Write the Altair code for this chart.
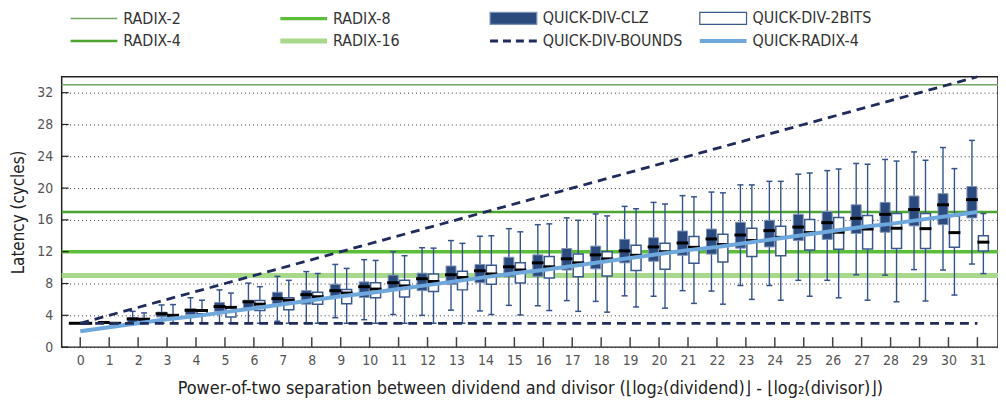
import altair as alt
import pandas as pd

# ---------------- data ----------------
x_values = list(range(32))

clz_min = [3, 3, 3, 3, 3, 3, 3, 3.25, 3, 3.7, 3.45, 4.1, 4.0, 4.65, 4.55, 5.25,
           5.2, 5.85, 5.75, 6.45, 6.4, 7.1, 7.05, 7.75, 7.75, 8.4, 8.4, 9.1, 9.05, 9.75, 9.7, 10.45]
clz_q1 = [3, 3, 3.1, 3.8, 4.1, 4.5, 4.9, 5.45, 5.4, 6.35, 6.25, 7.1, 7.1, 7.9, 8.1, 8.85,
          8.9, 9.7, 9.85, 10.6, 10.8, 11.55, 11.7, 12.45, 12.6, 13.4, 13.55, 14.3, 14.45, 15.25, 15.4, 16.25]
clz_med = [3, 3.1, 3.55, 4.2, 4.65, 5.1, 5.7, 6.1, 6.6, 7.1, 7.6, 8.1, 8.6, 9.1, 9.6, 10.1,
           10.6, 11.1, 11.6, 12.1, 12.6, 13.1, 13.6, 14.1, 14.65, 15.1, 15.65, 16.2, 16.7, 17.3, 17.9, 18.55]
clz_q3 = [3, 3.2, 3.7, 4.4, 4.8, 5.6, 5.9, 6.9, 7.1, 7.9, 8.2, 9.05, 9.3, 10.2, 10.4, 11.3,
          11.6, 12.4, 12.7, 13.55, 13.75, 14.6, 14.85, 15.7, 15.95, 16.7, 17.05, 17.9, 18.2, 19.0, 19.3, 20.2]
clz_max = [3, 3.2, 4.5, 5.3, 6.2, 7.2, 8.05, 8.9, 9.5, 10.4, 11.0, 12.0, 12.5, 13.4, 13.95, 14.9,
           15.4, 16.25, 16.75, 17.7, 18.2, 19.05, 19.5, 20.4, 20.85, 21.75, 22.2, 23.1, 23.6, 24.55, 25.1, 26.0]

bits_min = [3, 3, 3, 3, 3, 3, 3, 3, 3, 3, 3, 3, 3, 3, 4.1, 4.05,
            4.6, 4.5, 4.4, 5.05, 4.9, 5.5, 5.4, 6.0, 5.9, 6.4, 6.2, 5.9, 5.7, 5.8, 6.55, 9.25]
bits_q1 = [3, 3, 3.4, 3.55, 4.2, 3.8, 4.6, 4.7, 5.4, 5.45, 6.2, 6.3, 7.0, 7.2, 7.9, 8.05,
           8.7, 8.85, 8.95, 9.65, 9.8, 10.55, 10.7, 11.4, 11.5, 12.2, 12.3, 12.35, 12.4, 12.4, 12.55, 12.1]
bits_med = [3, 3, 3.5, 4.0, 4.6, 5.0, 5.4, 5.9, 6.35, 6.8, 7.3, 7.7, 8.25, 8.75, 9.2, 9.7,
            10.1, 10.6, 11.1, 11.55, 12.0, 12.55, 12.9, 13.4, 13.8, 14.4, 14.45, 14.85, 14.95, 14.9, 14.4, 13.2]
bits_q3 = [3, 3, 3.6, 4.05, 4.7, 5.05, 5.85, 6.2, 6.9, 7.25, 8.1, 8.4, 9.2, 9.55, 10.3, 10.6,
           11.4, 11.7, 12.0, 12.8, 13.05, 13.9, 14.2, 14.95, 15.2, 16.05, 16.3, 16.55, 16.8, 16.8, 16.5, 14.0]
bits_max = [3, 3, 4.3, 5.35, 5.9, 6.8, 7.6, 8.4, 9.25, 9.9, 10.9, 11.5, 12.45, 13.05, 14.0, 14.5,
            15.5, 15.95, 16.5, 17.4, 18.0, 18.9, 19.4, 20.4, 20.85, 21.9, 22.4, 23.0, 23.4, 23.5, 22.45, 16.8]

quick_radix4 = [2.0, 2.5, 3.0, 3.5, 3.9, 4.4, 4.9, 5.4, 5.9, 6.4, 6.8, 7.3, 7.8, 8.3, 8.8, 9.3,
                9.7, 10.2, 10.7, 11.2, 11.7, 12.2, 12.6, 13.1, 13.6, 14.1, 14.6, 15.1, 15.5, 16.0, 16.5, 17.0]

radix_names = ["RADIX-2", "RADIX-4", "RADIX-8", "RADIX-16"]
radix_latency = [33, 17, 12, 9]

bounds_x = [0, 31]
bounds_lower = [3, 3]
bounds_upper = [3, 34]

y_tick_values = [0, 4, 8, 12, 16, 20, 24, 28, 32]

# legend entries, column by column (4 columns of 2 rows)
legend_order = ["RADIX-2", "RADIX-4", "RADIX-8", "RADIX-16",
                "QUICK-DIV-CLZ", "QUICK-DIV-BOUNDS", "QUICK-DIV-2BITS", "QUICK-RADIX-4"]

# ---------------- styling ----------------
FONT = "Liberation Sans Narrow, DejaVu Sans Condensed, sans-serif"
W, H = 942, 272
NAVY = "#2b4a7e"
WHISK = "#34538a"
DASH_NAVY = "#1f2b5a"
radix_colors = {"RADIX-2": "#73a866", "RADIX-4": "#4ea431", "RADIX-8": "#5cbd38", "RADIX-16": "#a8d98a"}
radix_widths = {"RADIX-2": 1.5, "RADIX-4": 2.5, "RADIX-8": 3.5, "RADIX-16": 5}
QR4 = "#6fa8dc"

xs = alt.Scale(domain=[-0.47, 31.54], nice=False, zero=False)
ys = alt.Scale(domain=[0, 34], nice=False, zero=False)
X_TITLE = "Power-of-two separation between dividend and divisor (⌊log₂(dividend)⌋ - ⌊log₂(divisor)⌋)"


def xenc(field="x"):
    return alt.X(f"{field}:Q", scale=xs,
                 axis=alt.Axis(values=x_values, title=X_TITLE, grid=False, ticks=False,
                               domain=False, labelPadding=6, titlePadding=13, format="d"))


def yenc(field):
    return alt.Y(f"{field}:Q", scale=ys,
                 axis=alt.Axis(values=y_tick_values, title="Latency (cycles)", grid=True,
                               ticks=False, domain=False, labelPadding=9, titlePadding=9,
                               gridDash=[1, 3], gridColor="#333333", gridWidth=1))


box_df = pd.DataFrame({
    "x": x_values,
    "clz_min": clz_min, "clz_q1": clz_q1, "clz_med": clz_med, "clz_q3": clz_q3, "clz_max": clz_max,
    "bits_min": bits_min, "bits_q1": bits_q1, "bits_med": bits_med, "bits_q3": bits_q3, "bits_max": bits_max,
    "qr4": quick_radix4,
})
radix_df = pd.DataFrame({"name": radix_names, "latency": radix_latency})
bounds_df = pd.DataFrame({
    "x": bounds_x + bounds_x,
    "v": bounds_lower + bounds_upper,
    "which": ["lower"] * len(bounds_x) + ["upper"] * len(bounds_x),
})
ytick_df = pd.DataFrame({"y": y_tick_values})

layers = []

# horizontal radix reference lines
for name in radix_names:
    layers.append(
        alt.Chart(radix_df).transform_filter(alt.datum.name == name)
        .mark_rule(color=radix_colors[name], strokeWidth=radix_widths[name])
        .encode(y=yenc("latency"))
    )

# inward ticks
base = alt.Chart(box_df)
layers.append(base.mark_rule(color="#444444", strokeWidth=1.5).encode(
    x=xenc("x"), y=alt.value(H), y2=alt.value(H - 10)))
layers.append(alt.Chart(ytick_df).mark_rule(color="#222222", strokeWidth=1.2).encode(
    y=yenc("y"), x=alt.value(0), x2=alt.value(7)))

# box plots
for pre, off, fill, stroke, sw in [("clz", -5.5, NAVY, "#7d91b4", 1.0),
                                   ("bits", 6, "#ffffff", "#3a5a8f", 1.5)]:
    layers.append(base.mark_rule(color=WHISK, strokeWidth=1.4, xOffset=off).encode(
        x=xenc("x"), y=yenc(f"{pre}_min"), y2=f"{pre}_max:Q"))
    for end in ("min", "max"):
        layers.append(base.mark_tick(orient="horizontal", size=6, thickness=1.5, color=WHISK,
                                     opacity=1, xOffset=off).encode(
            x=xenc("x"), y=yenc(f"{pre}_{end}")))
    layers.append(base.mark_bar(size=10, fill=fill, stroke=stroke, strokeWidth=sw, xOffset=off).encode(
        x=xenc("x"), y=yenc(f"{pre}_q1"), y2=f"{pre}_q3:Q"))
    layers.append(base.mark_tick(orient="horizontal", size=12, thickness=3, color="#000000",
                                 opacity=1, xOffset=off).encode(
        x=xenc("x"), y=yenc(f"{pre}_med")))

# quick-radix-4 line
layers.append(base.mark_line(color=QR4, strokeWidth=4).encode(x=xenc("x"), y=yenc("qr4")))

# bounds
layers.append(alt.Chart(bounds_df).mark_line(color=DASH_NAVY, strokeWidth=2.8, strokeDash=[9, 6]).encode(
    x=xenc("x"), y=yenc("v"), detail="which:N"))

# legend (symbols only, no data drawn)
SYM = 16          # nominal symbol box (px); the drawn swatch is 47 px long
u = 2 / SYM       # one pixel in symbol units
SW_LEN = 47


def bar_path(h):
    a, b = -1, -1 + SW_LEN * u
    return f"M{a},{-h/2*u}L{b},{-h/2*u}L{b},{h/2*u}L{a},{h/2*u}Z"


def dash_path(h, dash, gap, n):
    parts = []
    for i in range(n):
        a = -1 + i * (dash + gap) * u
        b = a + dash * u
        parts.append(f"M{a},{-h/2*u}L{b},{-h/2*u}L{b},{h/2*u}L{a},{h/2*u}Z")
    return "".join(parts)


legend_shapes = {
    "RADIX-2": bar_path(1.5), "RADIX-4": bar_path(2.5), "RADIX-8": bar_path(3.5), "RADIX-16": bar_path(5),
    "QUICK-DIV-CLZ": bar_path(12), "QUICK-DIV-2BITS": bar_path(12),
    "QUICK-DIV-BOUNDS": dash_path(3, 8, 5, 4), "QUICK-RADIX-4": bar_path(4),
}
legend_fill = {
    "RADIX-2": radix_colors["RADIX-2"], "RADIX-4": radix_colors["RADIX-4"],
    "RADIX-8": radix_colors["RADIX-8"], "RADIX-16": radix_colors["RADIX-16"],
    "QUICK-DIV-CLZ": NAVY, "QUICK-DIV-2BITS": "#ffffff",
    "QUICK-DIV-BOUNDS": DASH_NAVY, "QUICK-RADIX-4": QR4,
}
legend_stroke = {k: "transparent" for k in legend_order}
legend_stroke["QUICK-DIV-CLZ"] = "#7d91b4"
legend_stroke["QUICK-DIV-2BITS"] = "#3a5a8f"

leg = alt.Legend(title=None, orient="none", legendX=8, legendY=-68, columns=4, gridAlign="all",
                 columnPadding=14, rowPadding=5, symbolSize=SYM * SYM, symbolStrokeWidth=1.2,
                 symbolOpacity=1, symbolFillColor="#ffffff", symbolStrokeColor="#ffffff",
                 labelOffset=36, labelFontSize=16, labelFont=FONT, labelColor="#333333", padding=0)

legend_df = pd.DataFrame({"series": legend_order})
layers.append(
    alt.Chart(legend_df).transform_filter("false").mark_point(size=SYM * SYM, opacity=1, filled=False).encode(
        stroke=alt.Stroke("series:N", scale=alt.Scale(domain=legend_order,
                                                      range=[legend_stroke[k] for k in legend_order]), legend=leg),
        fill=alt.Fill("series:N", scale=alt.Scale(domain=legend_order,
                                                  range=[legend_fill[k] for k in legend_order]), legend=leg),
        shape=alt.Shape("series:N", scale=alt.Scale(domain=legend_order,
                                                    range=[legend_shapes[k] for k in legend_order]), legend=leg),
    )
)

chart = alt.layer(*layers).properties(
    width=W, height=H,
    autosize=alt.AutoSizeParams(type="none"),
    padding={"left": 54, "top": 68, "right": 0, "bottom": 50},
).configure_view(
    stroke="#222222", strokeWidth=1.5
).configure_axis(
    labelFont=FONT, titleFont=FONT, labelFontSize=14, titleFontSize=18,
    labelColor="#555555", titleColor="#222222", titleFontWeight="normal"
).configure_axisY(
    titleFontSize=17
)

chart.save("out.html", embed_options={"renderer": "svg", "actions": False})
